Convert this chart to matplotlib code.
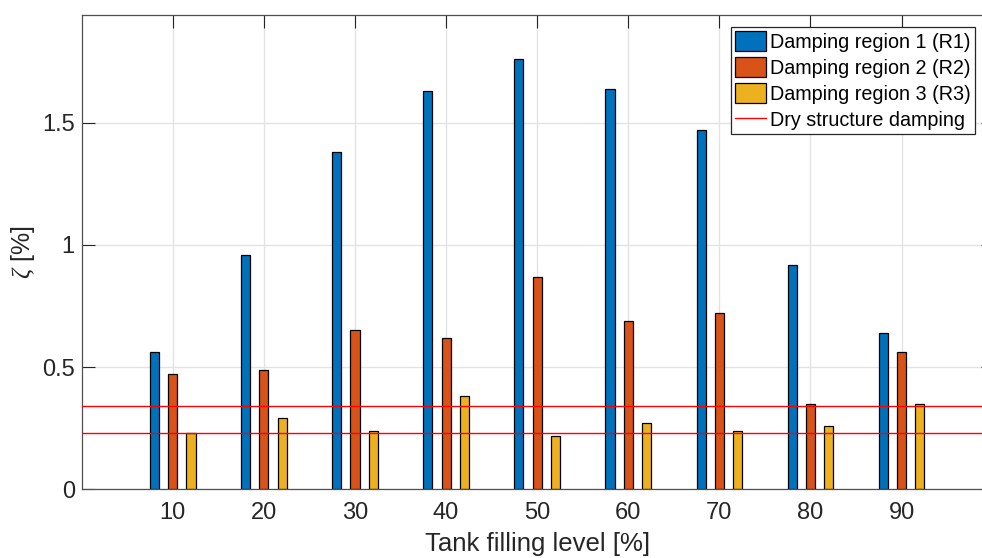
import numpy as np
import matplotlib
matplotlib.use("Agg")
from matplotlib import pyplot as plt
from matplotlib.lines import Line2D

plt.rcParams['font.family'] = ['Liberation Sans', 'DejaVu Sans']
plt.rcParams['mathtext.fontset'] = 'custom'
plt.rcParams['mathtext.it'] = 'Liberation Serif:italic'

# damping ratios per filling level
fill_level = [10, 20, 30, 40, 50, 60, 70, 80, 90]
zeta_r1 = [0.56, 0.96, 1.38, 1.63, 1.76, 1.64, 1.47, 0.92, 0.64]
zeta_r2 = [0.47, 0.49, 0.65, 0.62, 0.87, 0.69, 0.72, 0.35, 0.56]
zeta_r3 = [0.23, 0.29, 0.24, 0.38, 0.22, 0.27, 0.24, 0.26, 0.35]
dry_damping = [0.34, 0.23]

labels = ['Damping region 1 (R1)', 'Damping region 2 (R2)',
          'Damping region 3 (R3)', 'Dry structure damping']
colors = ['#0072BD', '#D95319', '#EDB120']

fig = plt.figure(figsize=(9.82, 5.58), dpi=100)
ax = fig.add_axes([0.0832, 0.1231, 0.9276, 0.8495])

x = np.array(fill_level)
offsets = [-2, 0, 2]
bars = []
for series, off, c in zip([zeta_r1, zeta_r2, zeta_r3], offsets, colors):
    b = ax.bar(x + off, series, width=1.0, color=c, edgecolor='black',
               linewidth=0.9, zorder=2)
    bars.append(b)

for d in dry_damping:
    ax.axhline(d, color='red', linewidth=1.0, zorder=3)

ax.set_xlim(0, 100)
ax.set_ylim(0, 1.94)
ax.set_xticks(fill_level)
ax.set_yticks([0, 0.5, 1, 1.5])
ax.set_yticklabels(['0', '0.5', '1', '1.5'])
ax.grid(True, color='#e3e3e3', linewidth=1.0, zorder=0)
ax.set_axisbelow(True)

ax.tick_params(direction='in', length=9, width=0.8, color='#262626',
               labelsize=17, labelcolor='#262626', top=True, right=True)
ax.tick_params(axis='x', pad=9)
ax.tick_params(axis='y', pad=5)
for sp in ax.spines.values():
    sp.set_color('#505050')
    sp.set_linewidth(0.9)

ax.set_xlabel('Tank filling level [%]', fontsize=18.5, color='#262626',
              labelpad=6)
ax.set_ylabel(r'$\zeta$ [%]', fontsize=18, color='#262626')
ax.yaxis.set_label_coords(-0.049, 0.5)

handles = bars + [Line2D([], [], color='red', linewidth=1.0)]
leg = ax.legend(handles, labels, loc='upper right',
                bbox_to_anchor=(975 / 982, 1 - 27 / 558),
                bbox_transform=fig.transFigure, fontsize=14.2,
                frameon=True, fancybox=False, framealpha=1,
                edgecolor='#262626', borderpad=0.2, labelspacing=0.27,
                handlelength=1.6, handleheight=1.2, handletextpad=0.2,
                borderaxespad=0)
leg.get_frame().set_linewidth(0.9)

fig.savefig('out.png', dpi=100)
